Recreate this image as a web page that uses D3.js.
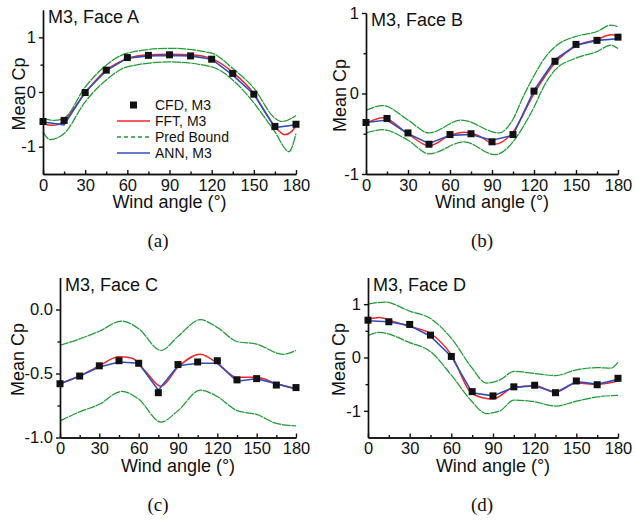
<!DOCTYPE html>
<html>
<head>
<meta charset="utf-8">
<script src="https://cdn.jsdelivr.net/npm/d3@7"></script>
<style>
  body { margin: 0; background: #fff; }
  text { font-family: "Liberation Sans", Arial, sans-serif; fill: #111; }
</style>
</head>
<body>
<svg id="canvas"></svg>
<script>
let angles = [0, 15, 30, 45, 60, 75, 90, 105, 120, 135, 150, 165, 180];
let xTicks = [0, 30, 60, 90, 120, 150, 180];
let xMinor = [15, 45, 75, 105, 135, 165];

// Face A
let aCfd = [-0.54, -0.52, -0.01, 0.40, 0.63, 0.67, 0.68, 0.66, 0.60, 0.34, -0.04, -0.63, -0.59];
let aAnn = [-0.55, -0.60, 0.00, 0.39, 0.62, 0.66, 0.67, 0.66, 0.60, 0.31, -0.04, -0.65, -0.60];
let aFft = [[0, -0.58], [7, -0.61], [15, -0.53], [22, -0.3], [30, -0.02], [45, 0.40], [60, 0.61], [75, 0.68], [90, 0.69], [105, 0.68], [120, 0.61], [135, 0.36], [150, -0.03], [160, -0.45], [165, -0.63], [172, -0.78], [177, -0.72], [180, -0.62]];
let aUpper = [[0, -0.48], [8, -0.52], [15, -0.48], [30, 0.09], [45, 0.49], [60, 0.71], [90, 0.80], [120, 0.71], [135, 0.43], [150, 0.07], [165, -0.48], [170, -0.54], [180, -0.43]];
let aLower = [[0, -0.73], [5, -0.87], [15, -0.76], [30, -0.18], [45, 0.22], [60, 0.46], [90, 0.55], [120, 0.46], [135, 0.22], [150, -0.2], [165, -0.73], [175, -1.09], [180, -0.76]];

// Face B
let bCfd = [-0.36, -0.31, -0.49, -0.63, -0.51, -0.50, -0.60, -0.51, 0.03, 0.40, 0.61, 0.66, 0.70];
let bAnn = [-0.36, -0.33, -0.50, -0.62, -0.52, -0.51, -0.58, -0.52, 0.04, 0.42, 0.60, 0.66, 0.68];
let bFft = [[0, -0.37], [12, -0.30], [30, -0.50], [45, -0.65], [60, -0.52], [70, -0.48], [80, -0.52], [92, -0.63], [105, -0.48], [120, 0.0], [135, 0.38], [150, 0.59], [165, 0.67], [175, 0.73], [180, 0.72]];
let bUpper = [[0, -0.21], [12, -0.15], [30, -0.33], [45, -0.49], [68, -0.33], [95, -0.49], [105, -0.32], [112, -0.05], [120, 0.22], [128, 0.45], [138, 0.62], [150, 0.71], [165, 0.77], [175, 0.85], [180, 0.83]];
let bLower = [[0, -0.49], [12, -0.45], [30, -0.58], [45, -0.75], [70, -0.60], [92, -0.76], [105, -0.6], [112, -0.42], [120, -0.17], [128, 0.12], [135, 0.29], [150, 0.44], [165, 0.52], [175, 0.6], [180, 0.56]];

// Face C
let cCfd = [-0.58, -0.52, -0.44, -0.40, -0.42, -0.65, -0.43, -0.41, -0.40, -0.55, -0.54, -0.59, -0.61];
let cAnn = [-0.58, -0.52, -0.45, -0.41, -0.42, -0.63, -0.44, -0.42, -0.42, -0.56, -0.54, -0.58, -0.62];
let cFft = [[0, -0.58], [15, -0.52], [30, -0.44], [45, -0.37], [55, -0.38], [65, -0.48], [77, -0.60], [90, -0.45], [107, -0.35], [120, -0.42], [135, -0.53], [150, -0.53], [165, -0.58], [180, -0.62]];
let cUpper = [[0, -0.28], [15, -0.23], [30, -0.17], [47, -0.09], [60, -0.15], [77, -0.32], [90, -0.21], [107, -0.08], [120, -0.14], [135, -0.25], [150, -0.27], [170, -0.35], [180, -0.32]];
let cLower = [[0, -0.87], [15, -0.8], [30, -0.74], [47, -0.64], [60, -0.70], [77, -0.88], [90, -0.79], [107, -0.63], [120, -0.68], [135, -0.79], [150, -0.82], [165, -0.89], [180, -0.91]];

// Face D
let dCfd = [0.70, 0.67, 0.62, 0.42, 0.02, -0.64, -0.72, -0.55, -0.52, -0.66, -0.44, -0.51, -0.39];
let dAnn = [0.69, 0.67, 0.60, 0.40, 0.02, -0.66, -0.72, -0.56, -0.53, -0.66, -0.45, -0.50, -0.41];
let dFft = [[0, 0.72], [8, 0.75], [20, 0.66], [30, 0.58], [45, 0.45], [60, 0.05], [75, -0.68], [90, -0.78], [105, -0.56], [120, -0.53], [135, -0.65], [150, -0.48], [165, -0.50], [180, -0.44]];
let dUpper = [[0, 1.0], [12, 1.04], [30, 0.87], [45, 0.73], [60, 0.36], [75, -0.2], [85, -0.48], [95, -0.42], [105, -0.26], [120, -0.3], [135, -0.34], [150, -0.23], [165, -0.19], [175, -0.2], [180, -0.09]];
let dLower = [[0, 0.41], [8, 0.47], [30, 0.28], [45, 0.11], [60, -0.33], [75, -0.83], [85, -1.05], [95, -1.0], [105, -0.8], [120, -0.83], [135, -0.91], [150, -0.82], [165, -0.74], [180, -0.71]];

let legendLabels = ['CFD, M3', 'FFT, M3', 'Pred Bound', 'ANN, M3'];

let width = 635;
let height = 520;

let red = '#f0252a';
let blue = '#2f4fb8';
let green = '#1f9a35';

let canvas = d3.select('#canvas').attr('width', width).attr('height', height);

let panels = [
    { title: 'M3, Face A', caption: '(a)', cfd: aCfd, ann: aAnn, fft: aFft, upper: aUpper, lower: aLower,
      x0: 43, x1: 296, yTop: 10, yBot: 174, dom: [-1.5, 1.5], yTicks: [-1, 0, 1], yMinor: [-0.5, 0.5], fmt: 'int', labelX: 25, capX: 158, legend: true },
    { title: 'M3, Face B', caption: '(b)', cfd: bCfd, ann: bAnn, fft: bFft, upper: bUpper, lower: bLower,
      x0: 366, x1: 618, yTop: 13, yBot: 174, dom: [-1, 1], yTicks: [-1, 0, 1], yMinor: [-0.5, 0.5], fmt: 'int', labelX: 346, capX: 482 },
    { title: 'M3, Face C', caption: '(c)', cfd: cCfd, ann: cAnn, fft: cFft, upper: cUpper, lower: cLower,
      x0: 60, x1: 296, yTop: 277.5, yBot: 437.5, dom: [-1, 0.25], yTicks: [-1, -0.5, 0], yMinor: [-0.75, -0.25], fmt: 'dec', labelX: 24, capX: 158 },
    { title: 'M3, Face D', caption: '(d)', cfd: dCfd, ann: dAnn, fft: dFft, upper: dUpper, lower: dLower,
      x0: 368, x1: 618, yTop: 277.5, yBot: 437.5, dom: [-1.5, 1.5], yTicks: [-1, 0, 1], yMinor: [-0.5, 0.5], fmt: 'int', labelX: 345, capX: 482 }
];

let hyphen = (s) => s.replace('\u2212', '-');

let drawPanel = (p) => {
    let xScale = d3.scaleLinear().domain([0, 180]).range([p.x0, p.x1]);
    let yScale = d3.scaleLinear().domain(p.dom).range([p.yBot, p.yTop]);
    let g = canvas.append('g');

    // pred bounds (fine dashes, reads almost solid like the original)
    let smooth = d3.line()
                   .x((d) => xScale(d[0]))
                   .y((d) => yScale(d[1]))
                   .curve(d3.curveMonotoneX);

    [p.upper, p.lower].forEach((band) => {
        g.append('path')
         .attr('d', smooth(band))
         .attr('fill', 'none')
         .attr('stroke', green)
         .attr('stroke-width', 1.25)
         .attr('stroke-dasharray', '9,0.7');
    });

    g.append('path')
     .attr('d', smooth(p.fft))
     .attr('fill', 'none')
     .attr('stroke', red)
     .attr('stroke-width', 1.5);

    let straight = d3.line()
                     .x((d, i) => xScale(angles[i]))
                     .y((d) => yScale(d));

    g.append('path')
     .attr('d', straight(p.ann))
     .attr('fill', 'none')
     .attr('stroke', blue)
     .attr('stroke-width', 1.6);

    g.selectAll('rect.cfd')
     .data(p.cfd)
     .enter()
     .append('rect')
     .attr('class', 'cfd')
     .attr('x', (d, i) => xScale(angles[i]) - 3.5)
     .attr('y', (d) => yScale(d) - 3.5)
     .attr('width', 7)
     .attr('height', 7)
     .attr('fill', '#111');

    // axes
    let xAxis = d3.axisBottom(xScale).tickValues(xTicks).tickSize(-4).tickSizeOuter(0).tickPadding(5);
    let xAxisMinor = d3.axisBottom(xScale).tickValues(xMinor).tickSize(-2.5).tickSizeOuter(0).tickFormat('');
    let yFmt = p.fmt === 'dec' ? (v) => hyphen(d3.format('.1f')(v)) : (v) => hyphen(d3.format('d')(v));
    let yAxis = d3.axisLeft(yScale).tickValues(p.yTicks).tickSize(4).tickSizeOuter(0).tickPadding(3).tickFormat(yFmt);
    let yAxisMinor = d3.axisLeft(yScale).tickValues(p.yMinor).tickSize(2.5).tickSizeOuter(0).tickFormat('');

    [[xAxisMinor, 'x'], [xAxis, 'x'], [yAxisMinor, 'y'], [yAxis, 'y']].forEach(([ax, kind]) => {
        let a = g.append('g')
                 .attr('transform', kind === 'x' ? 'translate(0,' + p.yBot + ')' : 'translate(' + p.x0 + ',0)')
                 .call(ax);
        a.selectAll('path, line').attr('stroke', '#111').attr('stroke-width', 1.4);
        a.selectAll('text').attr('font-size', 16.5).style('fill', '#111')
         .attr('font-family', '"Liberation Sans", Arial, sans-serif');
    });

    g.append('text')
     .attr('x', p.x0 + 5)
     .attr('y', p.yTop + 13)
     .attr('font-size', 18)
     .text(p.title);

    g.append('text')
     .attr('transform', 'translate(' + p.labelX + ',' + ((p.yTop + p.yBot) / 2 + 2) + ') rotate(-90)')
     .attr('text-anchor', 'middle')
     .attr('font-size', 18)
     .text('Mean Cp');

    g.append('text')
     .attr('x', (p.x0 + p.x1) / 2)
     .attr('y', p.yBot + 34)
     .attr('text-anchor', 'middle')
     .attr('font-size', 18)
     .text('Wind angle (\u00b0)');

    g.append('text')
     .attr('x', p.capX)
     .attr('y', p.yBot + 73)
     .attr('text-anchor', 'middle')
     .attr('font-size', 19)
     .style('font-family', '"Liberation Serif", "Times New Roman", serif')
     .text(p.caption);

    if (p.legend) {
        let lg = g.append('g');
        let rowY = [105, 121, 137, 153];
        legendLabels.forEach((label, i) => {
            let y = rowY[i];
            if (i === 0) {
                lg.append('rect').attr('x', 130).attr('y', y - 3.5).attr('width', 7).attr('height', 7).attr('fill', '#111');
            } else {
                lg.append('line')
                  .attr('x1', 117).attr('x2', 150).attr('y1', y).attr('y2', y)
                  .attr('stroke', i === 1 ? red : i === 2 ? green : blue)
                  .attr('stroke-width', 1.4)
                  .attr('stroke-dasharray', i === 2 ? '4,3' : null);
            }
            lg.append('text')
              .attr('x', 155)
              .attr('y', y + 5)
              .attr('font-size', 14)
              .text(label);
        });
    }
};

panels.forEach(drawPanel);
</script>
</body>
</html>
